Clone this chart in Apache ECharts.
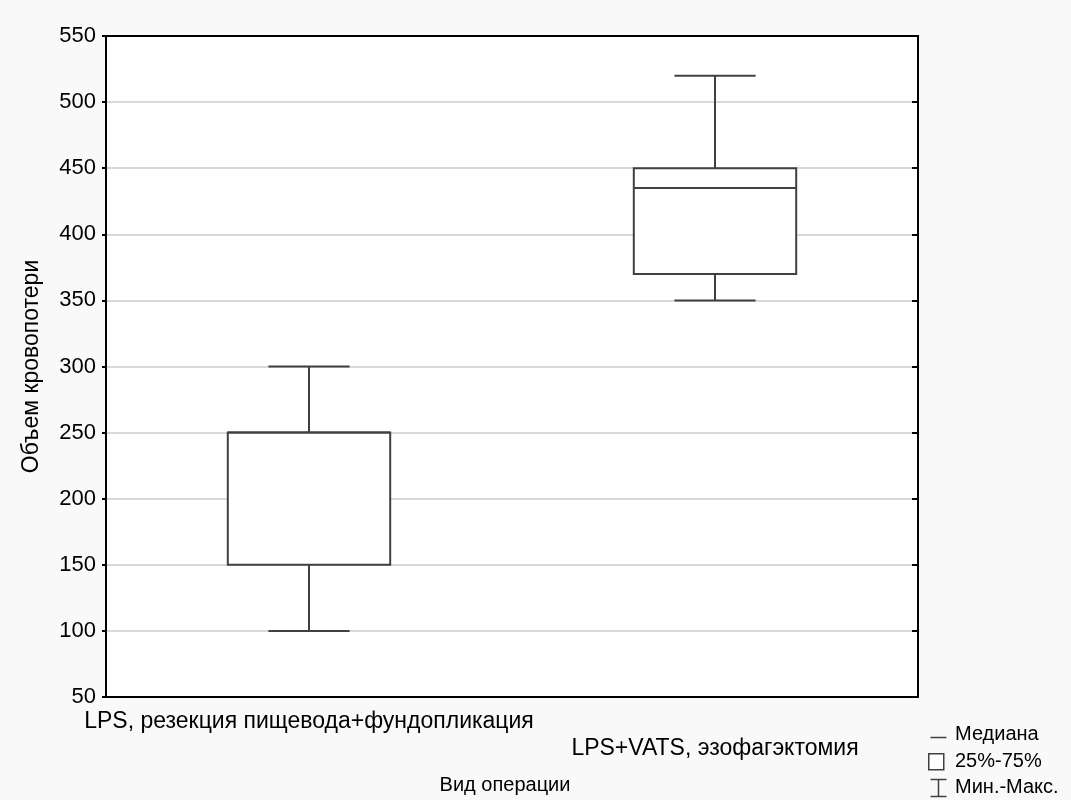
<!DOCTYPE html>
<html>
<head>
<meta charset="utf-8">
<script src="https://cdn.jsdelivr.net/npm/echarts@6/dist/echarts.min.js"></script>
<style>
  html, body { margin: 0; padding: 0; background: #f9f9f9; }
  #chart { width: 1071px; height: 800px; }
</style>
</head>
<body>
<div id="chart"></div>
<script>
// data
const categories = ['LPS, резекция пищевода+фундопликация', 'LPS+VATS, эзофагэктомия'];
const mins = [100, 350];
const q1s = [150, 370];
const medians = [250, 435];
const q3s = [250, 450];
const maxs = [300, 520];

const yTicks = { min: 50, max: 550, interval: 50 };
const font = 'Liberation Sans, Arial, sans-serif';
const stroke = '#404040';

const boxData = categories.map((c, i) => [i, mins[i], q1s[i], medians[i], q3s[i], maxs[i]]);

const chart = echarts.init(document.getElementById('chart'));

function renderBox(params, api) {
  const i = api.value(0);
  const bw = api.size([1, 0])[0];
  const half = bw * 0.2, capHalf = bw * 0.1;
  const pMin = api.coord([i, api.value(1)]);
  const pQ1 = api.coord([i, api.value(2)]);
  const pMed = api.coord([i, api.value(3)]);
  const pQ3 = api.coord([i, api.value(4)]);
  const pMax = api.coord([i, api.value(5)]);
  const x = pMin[0];
  const st = { stroke: stroke, lineWidth: 2, fill: null };
  return {
    type: 'group',
    children: [
      { type: 'line', shape: { x1: x, y1: pMax[1], x2: x, y2: pQ3[1] }, style: st },
      { type: 'line', shape: { x1: x, y1: pQ1[1], x2: x, y2: pMin[1] }, style: st },
      { type: 'line', shape: { x1: x - capHalf, y1: pMax[1], x2: x + capHalf, y2: pMax[1] }, style: st },
      { type: 'line', shape: { x1: x - capHalf, y1: pMin[1], x2: x + capHalf, y2: pMin[1] }, style: st },
      { type: 'rect', shape: { x: x - half, y: pQ3[1], width: half * 2, height: pQ1[1] - pQ3[1] }, style: { stroke: stroke, lineWidth: 2, fill: '#fff' } },
      { type: 'line', shape: { x1: x - half, y1: pMed[1], x2: x + half, y2: pMed[1] }, style: st }
    ]
  };
}

const lx = 928;
const legendFont = '20px ' + font;
chart.setOption({
  backgroundColor: '#f9f9f9',
  animation: false,
  textStyle: { fontFamily: font },
  grid: { left: 106, right: 153, top: 36, bottom: 100, show: true, backgroundColor: '#fff', borderWidth: 0 },
  xAxis: [
    {
      type: 'category', data: categories, position: 'bottom',
      name: 'Вид операции', nameLocation: 'middle', nameGap: 78,
      nameTextStyle: { fontSize: 20, color: '#000', fontFamily: font, padding: [0, 14, 0, 0] },
      axisLine: { lineStyle: { color: '#000', width: 2 } },
      axisTick: { inside: true, length: 6, alignWithLabel: true, lineStyle: { color: '#000', width: 2 } },
      axisLabel: {
        interval: 0, fontSize: 23, color: '#000', margin: 11, lineHeight: 27, fontFamily: font,
        formatter: (v, i) => (i === 1 ? '\n' : '') + v
      },
      splitLine: { show: false }
    },
    {
      type: 'category', data: categories, position: 'top',
      axisLine: { lineStyle: { color: '#000', width: 2 } },
      axisTick: { inside: true, length: 6, alignWithLabel: true, lineStyle: { color: '#000', width: 2 } },
      axisLabel: { show: false },
      splitLine: { show: false }
    }
  ],
  yAxis: [
    {
      type: 'value', min: yTicks.min, max: yTicks.max, interval: yTicks.interval, position: 'left',
      name: 'Объем кровопотери', nameLocation: 'middle', nameGap: 63, nameRotate: 90,
      nameTextStyle: { fontSize: 23, color: '#000', fontFamily: font },
      axisLine: { show: true, lineStyle: { color: '#000', width: 2 } },
      axisTick: { show: true, length: 4, lineStyle: { color: '#000', width: 2 } },
      axisLabel: { fontSize: 22, color: '#000', margin: 10, fontFamily: font },
      splitLine: { show: true, lineStyle: { color: '#d9d9d9', width: 2 } }
    },
    {
      type: 'value', min: yTicks.min, max: yTicks.max, interval: yTicks.interval, position: 'right',
      axisLine: { show: true, lineStyle: { color: '#000', width: 2 } },
      axisTick: { show: true, inside: true, length: 6, lineStyle: { color: '#000', width: 2 } },
      axisLabel: { show: false },
      splitLine: { show: false }
    }
  ],
  series: [{
    type: 'custom',
    renderItem: renderBox,
    data: boxData,
    encode: { x: 0, y: [1, 2, 3, 4, 5] },
    z: 5
  }],
  graphic: [
    { type: 'line', left: lx, top: 735, shape: { x1: 0, y1: 0, x2: 16, y2: 0 }, style: { stroke: stroke, lineWidth: 1.5 } },
    { type: 'text', left: lx + 27, top: 724, style: { text: 'Медиана', font: legendFont, fill: '#000' } },
    { type: 'rect', left: lx, top: 753, shape: { x: 0, y: 0, width: 15, height: 16 }, style: { stroke: stroke, lineWidth: 1.5, fill: '#fff' } },
    { type: 'text', left: lx + 27, top: 751, style: { text: '25%-75%', font: legendFont, fill: '#000' } },
    { type: 'group', left: lx, top: 777, children: [
      { type: 'line', shape: { x1: 0, y1: 0, x2: 16, y2: 0 }, style: { stroke: stroke, lineWidth: 1.5 } },
      { type: 'line', shape: { x1: 8, y1: 0, x2: 8, y2: 17 }, style: { stroke: stroke, lineWidth: 1.5 } },
      { type: 'line', shape: { x1: 0, y1: 17, x2: 16, y2: 17 }, style: { stroke: stroke, lineWidth: 1.5 } }
    ] },
    { type: 'text', left: lx + 27, top: 777, style: { text: 'Мин.-Макс.', font: legendFont, fill: '#000' } }
  ]
});
</script>
</body>
</html>
